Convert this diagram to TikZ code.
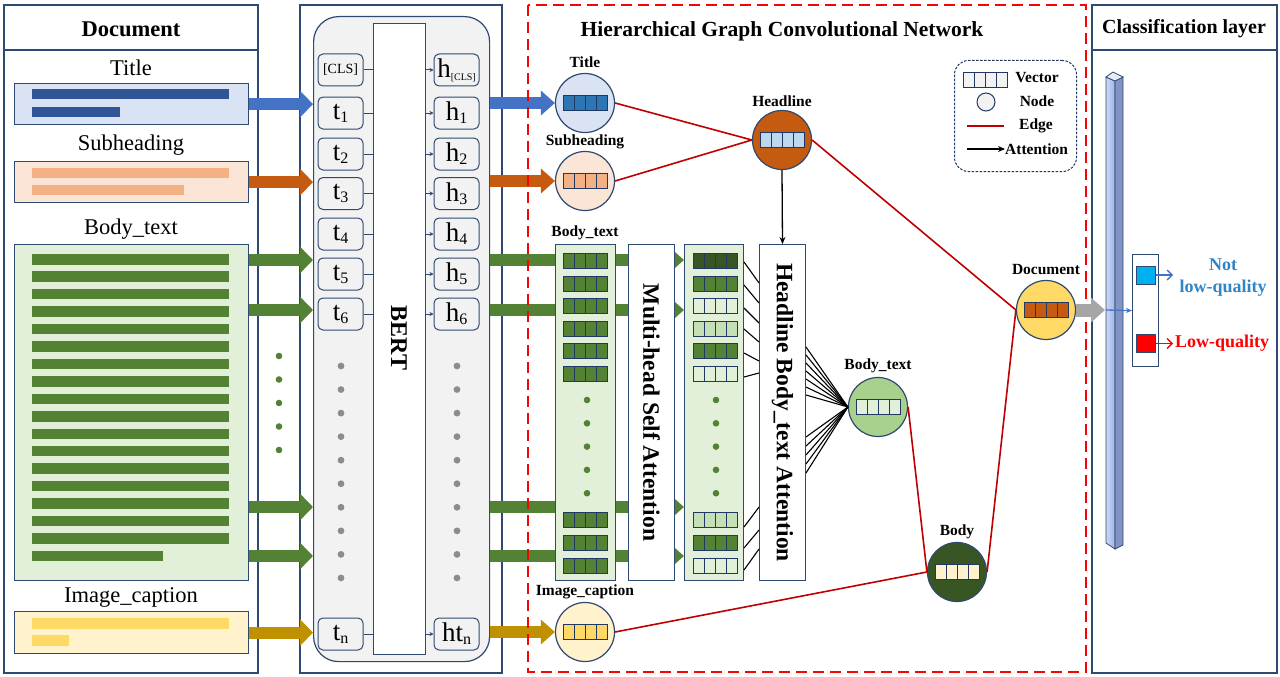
\documentclass[tikz,border=0pt]{standalone}
\usepackage{fontspec}
\setmainfont{Liberation Serif}
\usetikzlibrary{arrows.meta,calc}
\newcommand\fsz[1]{\fontsize{#1}{#1}\selectfont}
\newcommand\tk[2]{#1\raisebox{-3pt}{\fsz{16}#2}}
\newcommand\vecq[3]{\foreach \k in {0,1,2,3}{\draw[draw=vborder, line width=1pt, fill=#3] (#1-22+11*\k,#2-7.5) rectangle ++(11,15);}}
\definecolor{pborder}{HTML}{2F4A70}
\definecolor{tblue}{HTML}{DAE3F3}
\definecolor{tbline}{HTML}{2F5597}
\definecolor{arblue}{HTML}{4472C4}
\definecolor{sorange}{HTML}{FBE5D6}
\definecolor{soline}{HTML}{F4B183}
\definecolor{arorange}{HTML}{C55A11}
\definecolor{bgreen}{HTML}{E2F0D9}
\definecolor{dgreen}{HTML}{548235}
\definecolor{ddgreen}{HTML}{375623}
\definecolor{lgreen}{HTML}{C5E0B4}
\definecolor{mgreen}{HTML}{A9D18E}
\definecolor{iyellow}{HTML}{FFF2CC}
\definecolor{iline}{HTML}{FFD966}
\definecolor{argold}{HTML}{BF9000}
\definecolor{bertbg}{HTML}{F2F2F2}
\definecolor{vborder}{HTML}{1F3864}
\definecolor{edgered}{HTML}{C00000}
\definecolor{hgcnred}{HTML}{FF0000}
\definecolor{vblue}{HTML}{2E75B6}
\definecolor{vlblue}{HTML}{BDD7EE}
\definecolor{notblue}{HTML}{2E86C8}
\definecolor{sqblue}{HTML}{00B0F0}
\definecolor{dotgray}{HTML}{8C8C8C}
\definecolor{grayar}{HTML}{A6A6A6}
\definecolor{barf1}{HTML}{CAD7F5}
\definecolor{barf2}{HTML}{9FB5E8}
\definecolor{barside}{HTML}{8194C4}
\definecolor{bartop}{HTML}{E6ECF8}
\tikzset{
  panel/.style={draw=pborder, line width=1.3pt},
  docbox/.style={draw=pborder, line width=1.2pt, anchor=north west, inner sep=0pt, minimum width=234pt},
  tok/.style={draw=pborder, fill=bertbg, rounded corners=5pt, minimum width=45pt, minimum height=32pt, inner sep=0pt, line width=1pt, font=\fsz{27}},
  gnode/.style={circle, draw=pborder, line width=1.2pt, minimum size=59pt, inner sep=0pt},
  glabel/.style={font=\bfseries\fsz{15.5}},
  plabel/.style={font=\fsz{22.5}},
  edge/.style={draw=edgered, line width=1.6pt},
  attn/.style={draw=black, line width=1.3pt, -{Stealth[length=7pt,width=6pt]}},
  blockar/.style={line width=12pt, -{Triangle[width=26pt,length=13pt]}},
  greenar/.style={line width=12pt, dgreen, -{Triangle[width=17pt,length=10pt]}},
  colbox/.style={draw=pborder, fill=bgreen, line width=1pt, anchor=north west, inner sep=0pt, minimum height=336pt},
  whbox/.style={draw=pborder, fill=white, line width=1pt, anchor=north west, inner sep=0pt, minimum height=336pt, minimum width=46pt},
  hatch/.style={draw=black, line width=1.1pt},
  fanl/.style={draw=black, line width=1.1pt},
  conn/.style={draw=pborder, line width=1pt}
}
\begin{document}
\begin{tikzpicture}[x=1pt,y=-1pt]
\useasboundingbox (0,0) rectangle (1280,677);
\fill[white] (0,0) rectangle (1280,677);

% ---------- panels
\draw[panel] (4,5) rectangle (258,673);
\draw[panel] (4,50) -- (258,50);
\draw[panel] (300,5) rectangle (502,673);
\draw[panel] (1092,5) rectangle (1277,673);
\draw[panel] (1092,50) -- (1277,50);
\node[font=\bfseries\fsz{22.5}] (doch) at (131,29) {Document};
\node[font=\bfseries\fsz{20}] (clh) at (1184,29) {Classification layer};

% ---------- document boxes
\node[plabel] (tlab) at (131,68) {Title};
\node[docbox, fill=tblue, minimum height=41pt] (tbox) at (14,83) {};
\fill[tbline] (32,89) rectangle (229,99);
\fill[tbline] (32,107) rectangle (120,117);

\node[plabel] (slab) at (131,145) {Subheading};
\node[docbox, fill=sorange, minimum height=41pt] (sbox) at (14,161) {};
\fill[soline] (32,168) rectangle (229,178);
\fill[soline] (32,185) rectangle (184,195);

\node[plabel] (blab) at (131,229) {Body\_text};
\node[docbox, fill=bgreen, minimum height=336pt] (bbox) at (14,244) {};
\foreach \i in {0,...,16} {\fill[dgreen] (32,254+17.45*\i) rectangle (229,264.5+17.45*\i);}
\fill[dgreen] (32,550.7) rectangle (163,561.2);
\foreach \i in {0,...,4} {\fill[dgreen] (279,356+23.5*\i) circle (3.3pt);}

\node[plabel] (ilab) at (131,597) {Image\_caption};
\node[docbox, fill=iyellow, minimum height=42pt] (ibox) at (14,611) {};
\fill[iline] (32,618) rectangle (229,629);
\fill[iline] (32,635) rectangle (69,646);

% ---------- BERT
\node[draw=pborder, line width=1.2pt, fill=bertbg, rounded corners=25pt, anchor=north west, minimum width=176pt, minimum height=645pt, inner sep=0pt] (bin) at (313,16) {};
\node[draw=pborder, line width=1pt, fill=white, anchor=north west, minimum width=52pt, minimum height=631pt, inner sep=0pt] (bert) at (373,23) {};
\node[rotate=-90, font=\bfseries\fsz{24}] (berttxt) at (399,338) {BERT};

\node[tok] (tcls) at (340.5,70) {\fsz{14}[CLS]};
\node[tok] (t1) at (340.5,113) {\tk{t}{1}};
\node[tok] (t2) at (340.5,154) {\tk{t}{2}};
\node[tok] (t3) at (340.5,193.5) {\tk{t}{3}};
\node[tok] (t4) at (340.5,234) {\tk{t}{4}};
\node[tok] (t5) at (340.5,274) {\tk{t}{5}};
\node[tok] (t6) at (340.5,314) {\tk{t}{6}};
\node[tok] (tn) at (340.5,634) {\tk{t}{n}};

\node[tok] (hcls) at (456.5,70) {h\raisebox{-3pt}{\fsz{10}[CLS]}};
\node[tok] (h1) at (456.5,113) {\tk{h}{1}};
\node[tok] (h2) at (456.5,154) {\tk{h}{2}};
\node[tok] (h3) at (456.5,193.5) {\tk{h}{3}};
\node[tok] (h4) at (456.5,234) {\tk{h}{4}};
\node[tok] (h5) at (456.5,274) {\tk{h}{5}};
\node[tok] (h6) at (456.5,314) {\tk{h}{6}};
\node[tok] (hn) at (456.5,634) {\tk{ht}{n}};

\foreach \a/\b in {tcls/hcls,t1/h1,t2/h2,t3/h3,t4/h4,t5/h5,t6/h6,tn/hn} {
  \draw[conn] (\a.east) -- (\a.east -| bert.west);
  \draw[conn, -{Stealth[length=4pt,width=4pt]}] (bert.east |- \b.west) -- (\b.west);
}
\foreach \i in {0,...,9} {
  \fill[dotgray] (341,366+23.55*\i) circle (3.4pt);
  \fill[dotgray] (457,366+23.55*\i) circle (3.4pt);
}

% ---------- input block arrows
\coordinate (gy1) at (0,260);
\coordinate (gy2) at (0,310);
\coordinate (gy3) at (0,507);
\coordinate (gy4) at (0,556);
\draw[blockar, arblue] (tbox.east) -- (tbox.east -| bin.west);
\draw[blockar, arorange] (sbox.east) -- (sbox.east -| bin.west);
\foreach \g in {gy1,gy2,gy3,gy4} {\draw[blockar, dgreen] (bbox.east |- \g) -- (bin.west |- \g);}
\draw[blockar, argold] (ibox.east) -- (ibox.east -| bin.west);

% ---------- HGCN nodes (positions)
\node[gnode, fill=tblue] (tc) at (585,103) {};
\node[gnode, fill=sorange] (sc) at (585,181) {};
\node[gnode, fill=arorange] (hc) at (782,140) {};
\node[gnode, fill=iyellow] (ic) at (585,632) {};
\node[gnode, fill=mgreen] (btc) at (878,407) {};
\node[gnode, fill=ddgreen] (bc) at (957,572) {};
\node[gnode, fill=iline] (dc) at (1046,310) {};

% columns
\node[colbox, minimum width=60pt] (col1) at (555,244) {};
\node[whbox] (msa) at (628,244) {};
\node[colbox, minimum width=59pt] (col2) at (684,244) {};

% output arrows from BERT
\draw[line width=12pt, arblue, -{Triangle[width=24pt,length=14pt]}] (bin.east |- tc.west) -- (tc.west);
\draw[line width=12pt, arorange, -{Triangle[width=24pt,length=14pt]}] (bin.east |- sc.west) -- (sc.west);
\draw[line width=12pt, argold, -{Triangle[width=24pt,length=14pt]}] (bin.east |- ic.west) -- (ic.west);
\foreach \g in {gy1,gy2,gy3,gy4} {\draw[greenar] (bin.east |- \g) -- (col2.west |- \g);}

% redraw column 1 and msa box on top of the green arrows
\node[colbox, minimum width=60pt] (col1b) at (555,244) {};
\node[whbox] (msab) at (628,244) {};
\node[rotate=-90, font=\bfseries\fsz{23.5}] (msatxt) at (msab.center) {Multi-head Self Attention};
\node[glabel] (coll) at (585,233) {Body\_text};

% red dashed HGCN
\draw[hgcnred, line width=2.6pt, dash pattern=on 11pt off 6pt] (528,5) rectangle (1086,672);
\node[font=\bfseries\fsz{21.5}] (hgt) at (782,31) {Hierarchical Graph Convolutional Network};

% vectors in columns
\foreach \yy in {261,283.5,306,328.5,351,373.5,520,543,566} {\vecq{585}{\yy}{dgreen}}
\vecq{715}{261}{ddgreen}
\vecq{715}{283.5}{dgreen}
\vecq{715}{306}{bgreen}
\vecq{715}{328.5}{lgreen}
\vecq{715}{351}{dgreen}
\vecq{715}{373.5}{bgreen}
\vecq{715}{520}{lgreen}
\vecq{715}{543}{dgreen}
\vecq{715}{566}{bgreen}
\foreach \i in {0,...,4} {
  \fill[dgreen] (587,400+23.3*\i) circle (3.3pt);
  \fill[dgreen] (716,400+23.3*\i) circle (3.3pt);
}

% Headline Body_text attention box
\node[whbox] (hba) at (759,244) {};
\node[rotate=-90, font=\bfseries\fsz{23.5}] (hbatxt) at (hba.center) {Headline Body\_text Attention};

% hatch lines from column 2 to attention box
\draw[hatch] (col2.east |- 0,262) -- (hba.west |- 0,283);
\draw[hatch] (col2.east |- 0,285) -- (hba.west |- 0,303);
\draw[hatch] (col2.east |- 0,308) -- (hba.west |- 0,323);
\draw[hatch] (col2.east |- 0,329) -- (hba.west |- 0,342);
\draw[hatch] (col2.east |- 0,353) -- (hba.west |- 0,361);
\draw[hatch] (col2.east |- 0,377) -- (hba.west |- 0,373);
\draw[hatch] (col2.east |- 0,527) -- (hba.west |- 0,507);
\draw[hatch] (col2.east |- 0,548) -- (hba.west |- 0,530);
\draw[hatch] (col2.east |- 0,570) -- (hba.west |- 0,549);

% fan lines to Body_text node
\foreach \yy in {347,355,363,371,379,387,395,437,446,455,464,473} {\draw[fanl] (hba.east |- 0,\yy) -- (btc.west);}

% edges
\draw[edge] (tc.east) -- (hc.west);
\draw[edge] (sc.east) -- (hc.west);
\draw[edge] (hc.east) -- (dc.west);
\draw[edge] (btc.east) -- (bc.west);
\draw[edge] (ic.east) -- (bc.west);
\draw[edge] (bc.east) -- (dc.west);
\draw[attn] (hc.south) -- (hba.north);

% vectors inside nodes and labels
\vecq{585}{103}{vblue}
\vecq{585}{181}{soline}
\vecq{782}{140}{vlblue}
\vecq{585}{632}{iline}
\vecq{878}{407}{bgreen}
\vecq{957}{572}{iyellow}
\vecq{1046}{310}{arorange}
\node[glabel] (tcl) at (585,62) {Title};
\node[glabel] (scl) at (585,142) {Subheading};
\node[glabel] (hcl) at (782,101) {Headline};
\node[glabel] (icl) at (585,592) {Image\_caption};
\node[glabel] (btcl) at (878,366) {Body\_text};
\node[glabel] (bcl) at (957,532) {Body};
\node[glabel] (dcl) at (1046,270) {Document};

% legend
\node[draw=vborder, line width=1pt, dash pattern=on 2.5pt off 1.5pt, rounded corners=14pt, anchor=north west, minimum width=122pt, minimum height=111pt, inner sep=0pt] (leg) at (954,60) {};
\vecq{985}{80}{bertbg}
\node[glabel] (lv) at (1037,78) {Vector};
\node[circle, draw=vborder, fill=bertbg, minimum size=18pt, inner sep=0pt, line width=1pt] (lnode) at (986,102) {};
\node[glabel] (lnl) at (1037,101) {Node};
\coordinate (le1) at (967,126);
\coordinate (le2) at (1004,126);
\draw[edge] (le1) -- (le2);
\node[glabel] (lel) at (1036,126) {Edge};
\node[glabel, anchor=west, inner sep=0pt] (lal) at (1005,149) {Attention};
\coordinate (la1) at (967,149);
\draw[attn] (la1) -- (lal.west);

% classification bar
\shadedraw[left color=barf1, right color=barf2, draw=pborder, line width=0.8pt] (1106,77) -- (1115,81) -- (1115,549) -- (1106,543) -- cycle;
\filldraw[fill=barside, draw=pborder, line width=0.8pt] (1115,81) -- (1123,77) -- (1123,545) -- (1115,549) -- cycle;
\filldraw[fill=bartop, draw=pborder, line width=0.8pt] (1106,77) -- (1113,72) -- (1123,77) -- (1115,81) -- cycle;

\coordinate (barc) at (1105,310);
\coordinate (barl) at (1106,310);
\draw[line width=13pt, grayar, -{Triangle[width=24pt,length=14pt]}] (dc.east) -- (barc);

\node[draw=pborder, line width=1.2pt, fill=white, anchor=north west, minimum width=26pt, minimum height=112pt, inner sep=0pt] (ob) at (1132,254) {};
\draw[arblue, line width=1.3pt, -{Stealth[length=6pt,width=5pt]}] (barl) -- (ob.west);
\node[draw=pborder, line width=1pt, fill=sqblue, minimum width=19pt, minimum height=18pt, inner sep=0pt] (bsq) at (1145.5,275) {};
\node[draw=pborder, line width=1pt, fill=red, minimum width=19pt, minimum height=18pt, inner sep=0pt] (rsq) at (1145.5,343.5) {};
\coordinate (bqe) at (1173,275);
\coordinate (rqe) at (1173,343.5);
\draw[arblue, line width=1.3pt, -{Straight Barb[length=5pt,width=10pt]}] (bsq.east) -- (bqe);
\draw[red, line width=1.3pt, -{Straight Barb[length=5pt,width=10pt]}] (rsq.east) -- (rqe);
\node[font=\bfseries\fontsize{18}{22}\selectfont, text=notblue, align=center] (nlq) at (1223,278) {Not\\low-quality};
\node[font=\bfseries\fsz{18}, text=red] (lq) at (1222,343) {Low-quality};
\end{tikzpicture}
\end{document}
